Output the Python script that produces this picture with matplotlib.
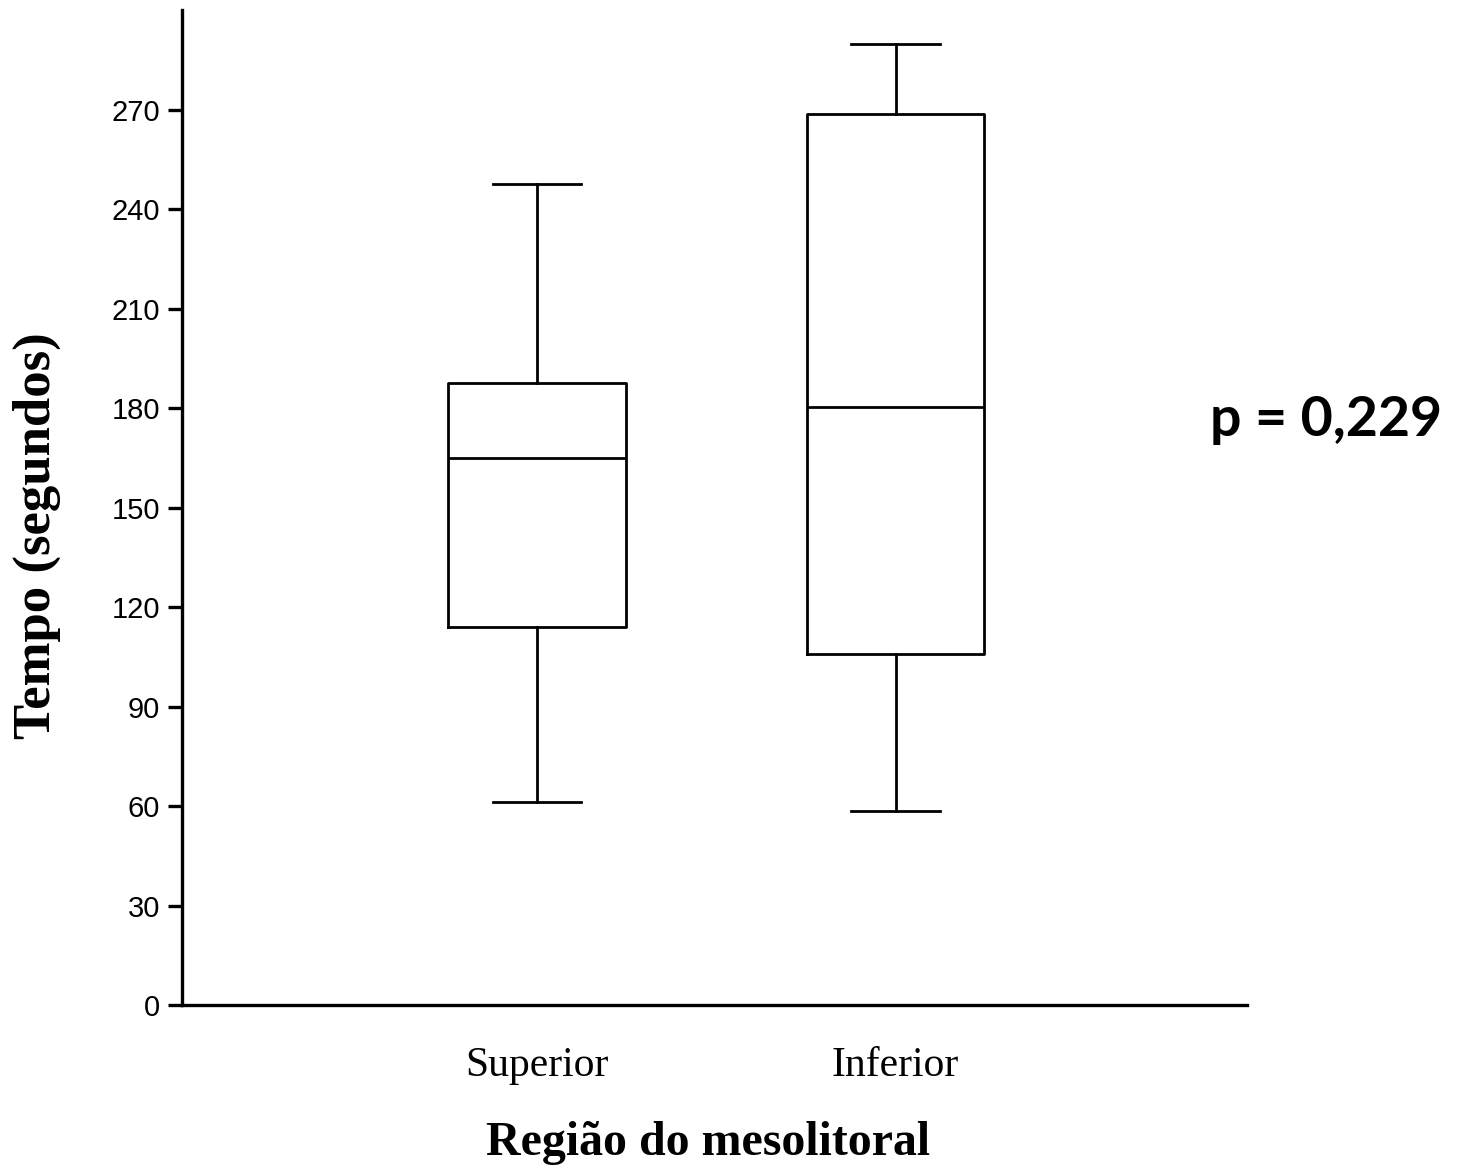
import matplotlib
matplotlib.use("Agg")
import matplotlib.pyplot as plt

categories = ["Superior", "Inferior"]
whislo = [61.2, 58.5]
q1 = [113.9, 105.8]
med = [164.8, 180.2]
q3 = [187.4, 268.8]
whishi = [247.4, 289.9]
yticks = [0, 30, 60, 90, 120, 150, 180, 210, 240, 270]

fig = plt.figure(figsize=(14.69, 11.67), dpi=100)
ax = fig.add_axes([0.1239, 0.1388, 0.8489 - 0.1239, 0.9914 - 0.1388])

stats = []
for i, c in enumerate(categories):
    stats.append(dict(label=c, whislo=whislo[i], q1=q1[i], med=med[i],
                      q3=q3[i], whishi=whishi[i], fliers=[]))

lw = 2.0
ax.bxp(stats, positions=[1, 2.01], widths=0.5, showfliers=False,
       boxprops=dict(color="black", linewidth=lw),
       medianprops=dict(color="black", linewidth=lw),
       whiskerprops=dict(color="black", linewidth=lw),
       capprops=dict(color="black", linewidth=lw))

ax.set_xlim(0, 3)
ax.set_ylim(0, 300)
ax.set_yticks(yticks)
ax.set_yticklabels([str(t) for t in yticks], family="Liberation Sans", fontsize=21)
ax.set_xticks([1, 2.01])
ax.set_xticklabels(categories, family="Liberation Serif", fontsize=30)
ax.tick_params(axis="x", length=0, pad=30)
ax.tick_params(axis="y", length=10, width=2.4, pad=6)

for s in ["top", "right"]:
    ax.spines[s].set_visible(False)
for s in ["left", "bottom"]:
    ax.spines[s].set_linewidth(2.4)

ax.set_xlabel("Região do mesolitoral", family="Liberation Serif", fontweight="bold",
              fontsize=34.5)
ax.xaxis.set_label_coords(0.494, -0.139)
ax.set_ylabel("Tempo (segundos)", family="Liberation Serif", fontweight="bold",
              fontsize=38)
ax.yaxis.set_label_coords(-0.136, 0.472)
ax.xaxis.label.set_va("center")
ax.yaxis.label.set_va("center")

fig.text(1326 / 1469, 1 - 420 / 1167, "p = 0,229", family="Lato",
         fontweight="bold", fontsize=40, ha="center", va="center")

fig.savefig("out.png", dpi=100)
